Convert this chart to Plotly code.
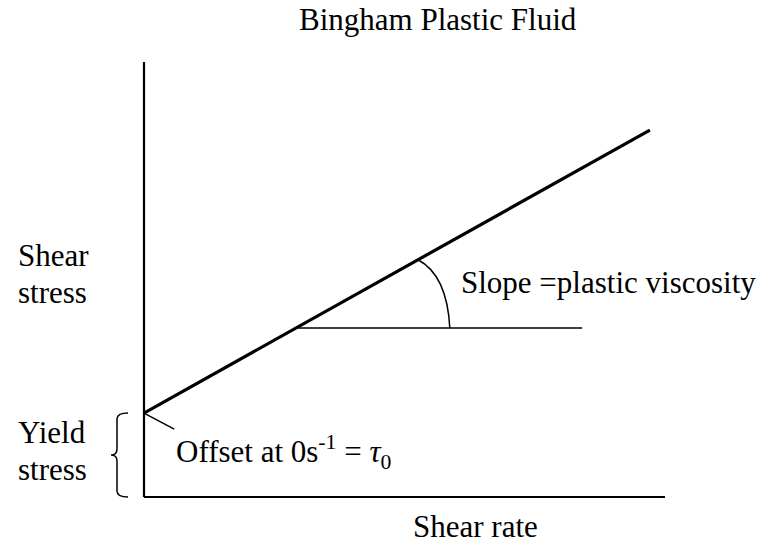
import plotly.graph_objects as go

# ---------------- data (diagram units) ----------------
axis_rate = [0, 10]            # extent of the shear-rate axis
axis_stress = [0, 10]          # extent of the shear-stress axis
yield_stress = 1.93            # tau_0, offset at 0 s^-1
plastic_viscosity = 0.67       # slope of the Bingham line
bingham_rate = [0.0, 9.71]     # shear-rate extent of the Bingham line
slope_ref_stress = 3.885       # stress level of the horizontal slope reference
slope_ref_rate_end = 8.41
arc_rate = [5.26, 5.87]        # start / end of the angle arc
offset_tick_rate = [0.0, 0.58]
offset_tick_stress = [1.93, 1.56]

title_text = "Bingham Plastic Fluid"
y_label = ["Shear", "stress"]
yield_label = ["Yield", "stress"]
x_label = "Shear rate"
slope_label = "Slope =plastic viscosity"
offset_label = "Offset at 0s<sup>-1</sup> = <i>τ</i><sub>0</sub>"

# ---------------- geometry of the canvas ----------------
W, H = 766, 543
ORIGIN_PX = (144, 497)
PX_PER_X = 52.1
PX_PER_Y = 43.5

def dx(px):
    return (px - ORIGIN_PX[0]) / PX_PER_X

def dy(py):
    return (ORIGIN_PX[1] - py) / PX_PER_Y

xr = [dx(0), dx(W)]
yr = [dy(H), dy(0)]

FONT = "Liberation Serif, Times New Roman, serif"
FS = 31

bingham_stress = [yield_stress + plastic_viscosity * r for r in bingham_rate]
ref_rate_start = (slope_ref_stress - yield_stress) / plastic_viscosity
arc_start_stress = yield_stress + plastic_viscosity * arc_rate[0]

fig = go.Figure()

def line(x, y, w):
    fig.add_trace(go.Scatter(x=x, y=y, mode="lines",
                             line=dict(color="black", width=w),
                             hoverinfo="skip", showlegend=False))

# axes
line([0, 0], axis_stress, 2.2)
line(axis_rate, [0, 0], 2.2)
# Bingham line
line(bingham_rate, bingham_stress, 3.2)
# horizontal slope reference
line([ref_rate_start, slope_ref_rate_end], [slope_ref_stress, slope_ref_stress], 1.5)
# offset pointer
line(offset_tick_rate, offset_tick_stress, 1.5)

# arc (angle marker)
x0, y0 = arc_rate[0], arc_start_stress
x3, y3 = arc_rate[1], slope_ref_stress
c1 = (x0 + 17 / PX_PER_X, y0 - 9 / PX_PER_Y)
c2 = (x3 - 2 / PX_PER_X, y3 + 38 / PX_PER_Y)
fig.add_shape(type="path", xref="x", yref="y",
              path=f"M {x0},{y0} C {c1[0]},{c1[1]} {c2[0]},{c2[1]} {x3},{y3}",
              line=dict(color="black", width=1.5))

# brace for yield stress
bx, bt, bl = dx(117), dx(128), dx(111)
top, mid, bot = yield_stress, dy(455), 0
r = 6 / PX_PER_Y
brace = (f"M {bt},{top} Q {bx},{top} {bx},{top - r} "
         f"L {bx},{mid + r} Q {bx},{mid} {bl},{mid} "
         f"Q {bx},{mid} {bx},{mid - r} "
         f"L {bx},{bot + r} Q {bx},{bot} {bt},{bot}")
fig.add_shape(type="path", xref="x", yref="y", path=brace,
              line=dict(color="black", width=1.5))

def text(t, px, py, xanchor="left"):
    fig.add_annotation(x=dx(px), y=dy(py), xref="x", yref="y", text=t,
                       showarrow=False, xanchor=xanchor, yanchor="middle",
                       font=dict(family=FONT, size=FS, color="black"))

text(title_text, 438, 19, "center")
text(y_label[0], 16, 255)
text(y_label[1], 16, 292)
text(yield_label[0], 16, 432)
text(yield_label[1], 16, 469)
text(slope_label, 459, 282)
text(offset_label, 174, 452)
text(x_label, 411, 526)

fig.update_layout(
    width=W, height=H,
    margin=dict(l=0, r=0, t=0, b=0),
    paper_bgcolor="white", plot_bgcolor="white",
    xaxis=dict(range=xr, visible=False, fixedrange=True),
    yaxis=dict(range=yr, visible=False, fixedrange=True),
)

fig.write_html("out.html",
               config={"displayModeBar": False, "staticPlot": True},
               post_script="document.body.style.margin='0px';"
                           "document.body.style.overflow='hidden';")
